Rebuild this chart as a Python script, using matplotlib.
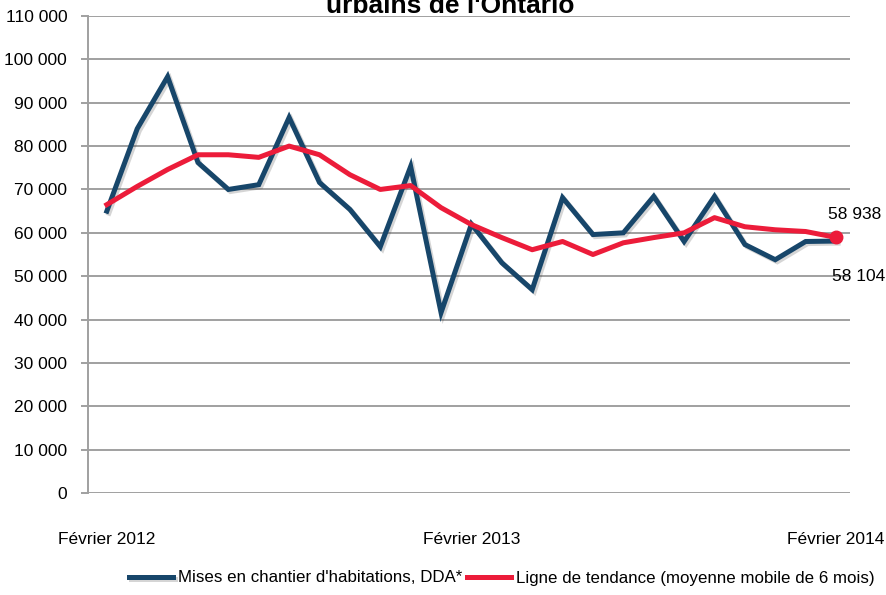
import matplotlib
matplotlib.use("Agg")
import matplotlib.pyplot as plt
import matplotlib.patheffects as pe
from matplotlib.ticker import FuncFormatter

plt.rcParams["font.family"] = ["Liberation Sans Narrow", "Liberation Sans", "DejaVu Sans"]

# monthly values, Feb 2012 .. Feb 2014
starts = [65000, 84000, 96000, 76200, 70000, 71100, 86600, 71600, 65400, 56800,
          75300, 41600, 62000, 53100, 46900, 68100, 59600, 60000, 68400, 58000,
          68400, 57300, 53800, 58000, 58104]
trend = [66500, 70700, 74600, 78000, 78000, 77400, 80000, 78000, 73400, 70000,
         70900, 65800, 61900, 58900, 56100, 58000, 55000, 57700, 58900, 60000,
         63500, 61400, 60700, 60300, 58938]
tick_pos = [0, 12, 24]
tick_labels = ["Février 2012", "Février 2013", "Février 2014"]
y_ticks = list(range(0, 110001, 10000))

BLUE = "#17466a"
RED = "#ec1c3a"
GRID = "#a0a0a0"

fig = plt.figure(figsize=(8.86, 5.95), dpi=100)
ax = fig.add_axes([88 / 886, 102 / 595, 762 / 886, 477 / 595])

x = list(range(len(starts)))
ax.plot(x, starts, color=BLUE, lw=3.6, solid_joinstyle="miter", zorder=3,
        label="Mises en chantier d'habitations, DDA*",
        path_effects=[pe.SimpleLineShadow(offset=(1.5, -1.5), alpha=0.22, shadow_color="#444444"),
                      pe.Normal()])
ax.plot(x, trend, color=RED, lw=3.6, zorder=4,
        label="Ligne de tendance (moyenne mobile de 6 mois)")
ax.plot([x[-1]], [trend[-1]], "o", color=RED, ms=9, zorder=5)

ax.text(x[-1] + 0.6, trend[-1] + 5200, "58 938", ha="center", va="center", fontsize=12.5)
ax.text(x[-1] + 0.75, starts[-1] - 8200, "58 104", ha="center", va="center", fontsize=12.5)

ax.set_xlim(-0.62, 24.46)
ax.set_ylim(0, 110000)
ax.set_yticks(y_ticks)
ax.yaxis.set_major_formatter(FuncFormatter(lambda v, p: f"{int(v):,}".replace(",", " ")))
ax.set_xticks(tick_pos)
ax.set_xticklabels(tick_labels)
ax.tick_params(axis="x", length=0, pad=28, labelsize=12.5)
ax.tick_params(axis="y", length=5, width=1.4, color=GRID, pad=10, labelsize=12.5)

ax.grid(axis="y", color=GRID, lw=1.4)
ax.set_axisbelow(True)
for s in ("top", "right", "bottom"):
    ax.spines[s].set_visible(False)
ax.spines["left"].set_color(GRID)
ax.spines["left"].set_linewidth(1.4)

# title is cropped at the top edge in the source image
fig.text(0.508, 0.978, "urbains de l'Ontario", ha="center", va="baseline",
         fontsize=19, fontweight="bold")

fig.legend(loc="center", bbox_to_anchor=(502 / 886, 17 / 595), ncol=2, frameon=False,
           fontsize=12.2, handlelength=2.6, handletextpad=0.3, columnspacing=0.3)

fig.savefig("out.png", dpi=100)
